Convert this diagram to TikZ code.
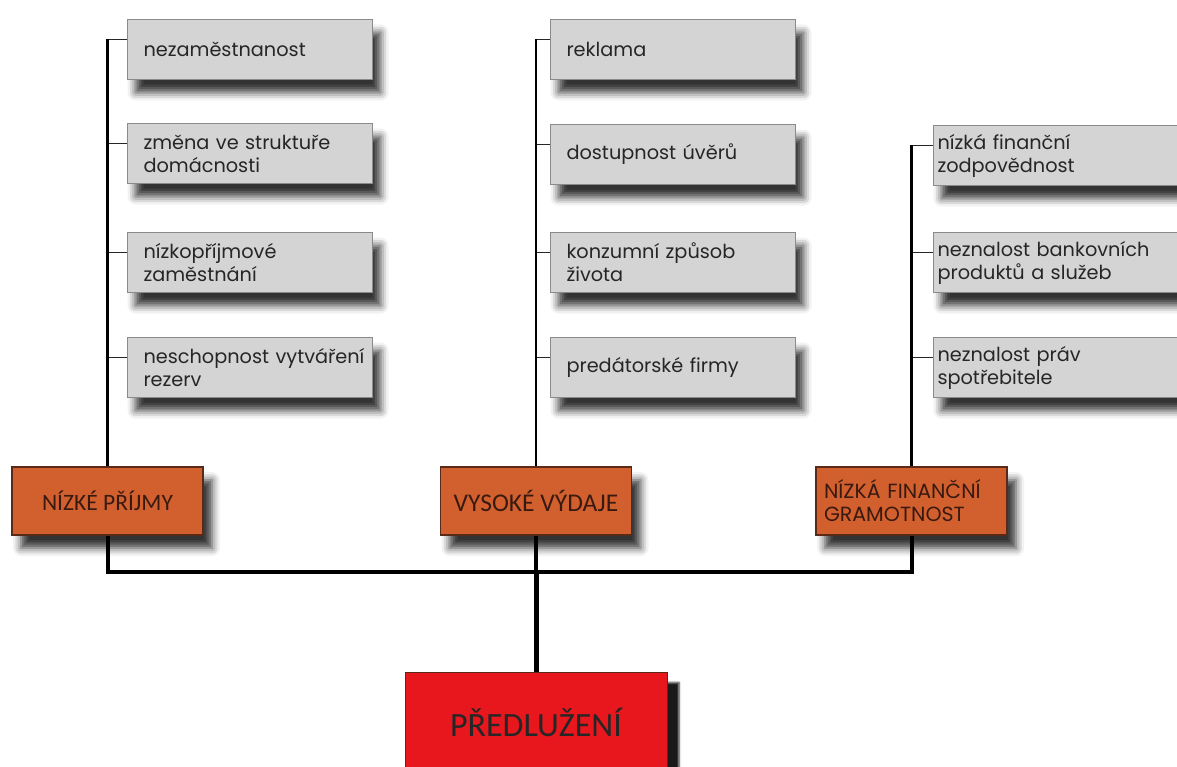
\documentclass[tikz,border=0pt]{standalone}
\usepackage{fontspec}
\setmainfont{Poppins}
\newfontfamily\gillfont{Carlito}
\usepackage{tikz}
\usetikzlibrary{positioning, calc, shadows.blur}

\definecolor{boxgray}{HTML}{D4D4D4}
\definecolor{boxedge}{HTML}{8A8A8A}
\definecolor{textgray}{HTML}{262626}
\definecolor{rust}{HTML}{D2602E}
\definecolor{rustedge}{HTML}{5A2A18}
\definecolor{rusttext}{HTML}{3A1A10}
\definecolor{alarmred}{HTML}{E8161D}

\tikzset{
    cause/.style={draw=boxedge, line width=1pt, fill=boxgray, text=textgray,
        anchor=north west, minimum height=60pt, inner xsep=16pt, inner ysep=0pt,
        text width=213pt, align=left,
        font={\fontsize{19.3pt}{23pt}\selectfont},
        blur shadow={shadow xshift=8pt, shadow yshift=-13pt, shadow blur radius=8pt, shadow opacity=80}},
    causeR/.style={cause, inner xsep=4pt, text width=246pt},
    group/.style={draw=rustedge, line width=1.2pt, fill=rust, text=rusttext,
        minimum width=191pt, minimum height=68pt, align=center,
        font={\gillfont\fontsize{23.5pt}{25pt}\selectfont},
        blur shadow={shadow xshift=9pt, shadow yshift=-13pt, shadow blur radius=8pt, shadow opacity=80}},
    groupR/.style={group, inner xsep=8pt, text width=175pt, align=left,
        font={\fontsize{20.5pt}{23pt}\selectfont}},
    result/.style={draw=rustedge, line width=1pt, fill=alarmred, text=black!85,
        anchor=north, minimum width=262pt, minimum height=100pt,
        font={\gillfont\fontsize{34pt}{36pt}\selectfont},
        blur shadow={shadow xshift=12pt, shadow yshift=-10pt, shadow blur radius=2pt, shadow opacity=90}},
    twig/.style={black!85, line width=1.6pt},
    stem/.style={black, line width=2.4pt},
    limb/.style={black, line width=4pt},
    trunk/.style={black, line width=5pt}
}

\begin{document}
\begin{tikzpicture}[x=1pt, y=-1pt]
    \useasboundingbox (0,0) rectangle (1177,767);

    % groups
    \node[group]  (o1) at (107.5,501) {NÍZKÉ PŘÍJMY};
    \node[group, font={\gillfont\fontsize{25.5pt}{27pt}\selectfont}]
                  (o2) at (536,501)   {VYSOKÉ VÝDAJE};
    \node[groupR] (o3) at (911.5,501) {NÍZKÁ FINANČNÍ\\GRAMOTNOST};

    % causes, left column
    \foreach \name/\y/\txt in {
        g11/19/{nezaměstnanost},
        g12/123/{změna ve struktuře\\domácnosti},
        g13/232/{nízkopříjmové\\zaměstnání},
        g14/337/{\mbox{neschopnost vytváření}\\rezerv}}
    {
        \node[cause] (\name) at (127,\y) {\txt};
    }

    % causes, middle column
    \foreach \name/\y/\txt in {
        g21/19/{reklama},
        g22/124/{dostupnost úvěrů},
        g23/232/{konzumní způsob\\života},
        g24/337/{predátorské firmy}}
    {
        \node[cause] (\name) at (550,\y) {\txt};
    }

    % causes, right column
    \foreach \name/\y/\txt in {
        g31/125/{nízká finanční\\zodpovědnost},
        g32/232/{neznalost bankovních\\produktů a služeb},
        g33/337/{neznalost práv\\spotřebitele}}
    {
        \node[causeR] (\name) at (933,\y) {\txt};
    }

    % result
    \node[result] (red) at (536,672) {PŘEDLUŽENÍ};

    % ticks from the column lines
    \foreach \g/\o in {g11/o1,g12/o1,g13/o1,g14/o1,
                       g21/o2,g22/o2,g23/o2,g24/o2,
                       g31/o3,g32/o3,g33/o3}
    {
        \coordinate (t\g) at ([yshift=10pt]\g.west);
        \draw[twig] (\o.north |- t\g) -- (t\g);
    }

    % column lines
    \draw[stem] (o1.north) -- (o1.north |- tg11);
    \draw[stem] (o2.north) -- (o2.north |- tg21);
    \draw[stem] (o3.north) -- (o3.north |- tg31);

    % bus and trunk
    \coordinate (bus) at (536,572);
    \draw[limb] (o1.south) |- (bus) -| (o3.south);
    \draw[limb] (o2.south) -- (bus);
    \draw[trunk] (bus) -- (red.north);
\end{tikzpicture}
\end{document}
